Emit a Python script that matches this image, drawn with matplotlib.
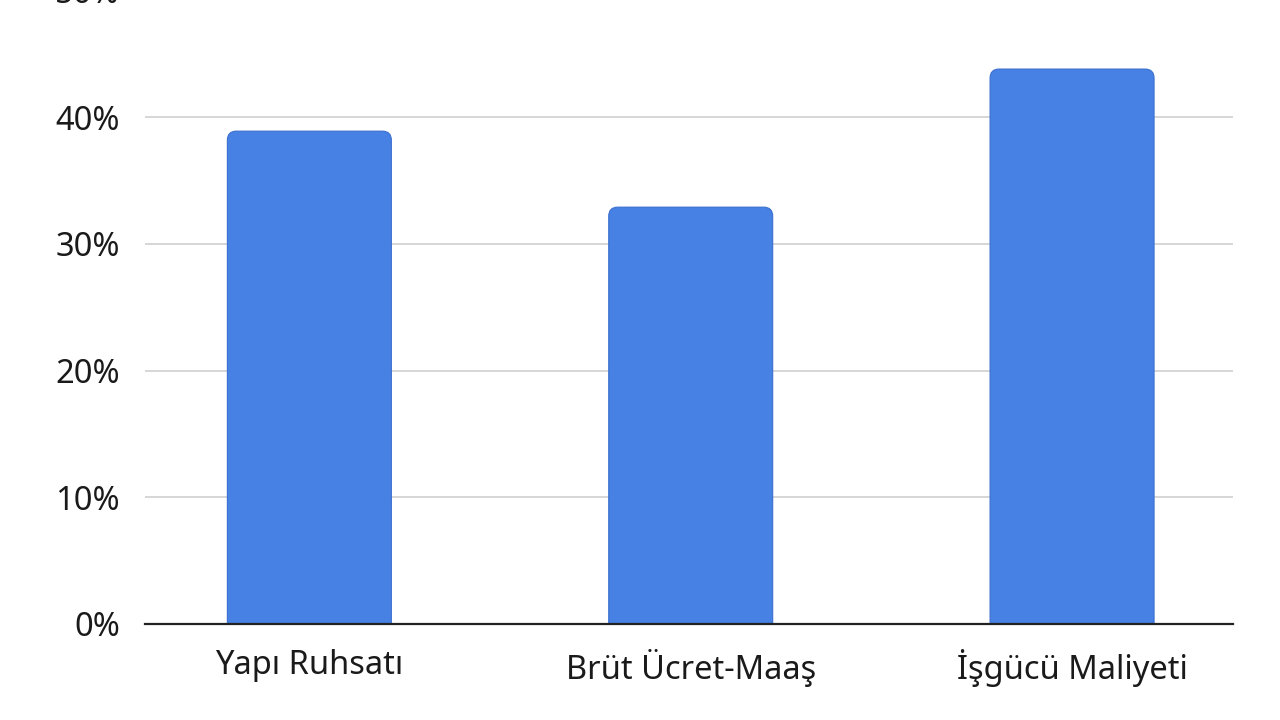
import matplotlib
matplotlib.use("Agg")
import matplotlib.pyplot as plt
from matplotlib.patches import FancyBboxPatch
from matplotlib.ticker import FuncFormatter

categories = ["Yapı Ruhsatı", "Brüt Ücret-Maaş", "İşgücü Maliyeti"]
values = [38.9, 32.9, 43.8]
y_ticks = [0, 10, 20, 30, 40, 50]

plt.rcParams['font.family'] = ['Noto Sans', 'DejaVu Sans']

fig = plt.figure(figsize=(12.8, 7.2), dpi=100)
ax = fig.add_axes([145 / 1280, 96 / 720, 1088 / 1280, 633.5 / 720])

bar_color = '#4781e3'
edge_color = '#3a6fd0'
width = 0.43
x = list(range(len(categories)))

# invisible bars to place things, then rounded patches on top
bars = ax.bar(x, values, width=width, color='none', edgecolor='none')

ax.set_xlim(-0.431, 2.422)
ax.set_ylim(0, 50)

# convert pixels to data units to get a round corner
px_x = (2.422 + 0.431) / 1088
px_y = 50 / 633.5
r_px = 9
for b in bars:
    x0 = b.get_x()
    h = b.get_height()
    patch = FancyBboxPatch((x0, -2), b.get_width(), h + 2,
                           boxstyle=f"round,pad=0,rounding_size={r_px * px_x}",
                           mutation_aspect=px_y / px_x,
                           facecolor=bar_color, edgecolor=edge_color,
                           linewidth=0.8, zorder=3)
    ax.add_patch(patch)

ax.set_yticks(y_ticks)
ax.yaxis.set_major_formatter(FuncFormatter(lambda v, p: f"{v:.0f}%"))
ax.grid(axis='y', color='#cfcfcf', linewidth=1.2, zorder=0)
ax.set_axisbelow(True)

ax.set_xticks(x)
ax.set_xticklabels(categories)

for s in ['top', 'right', 'left']:
    ax.spines[s].set_visible(False)
ax.spines['bottom'].set_color('#222222')
ax.spines['bottom'].set_linewidth(1.6)
ax.spines['bottom'].set_zorder(4)

ax.tick_params(axis='y', length=0, pad=18, labelsize=23.5, labelcolor='#1a1a1a')
ax.tick_params(axis='x', length=0, pad=18, labelsize=23.5, labelcolor='#1a1a1a')

fig.savefig('out.png', dpi=100, facecolor='white')
